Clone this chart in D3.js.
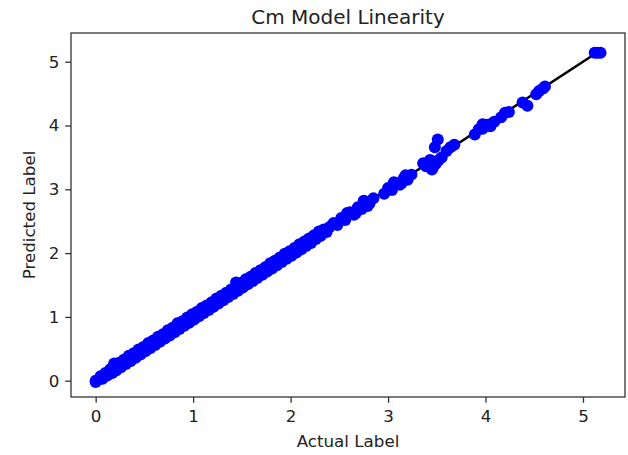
<!DOCTYPE html>
<html>
<head>
<meta charset="utf-8">
<script src="https://cdn.jsdelivr.net/npm/d3@7"></script>
<style>
  html, body { margin: 0; padding: 0; background: #fff; }
  svg { display: block; font-family: "DejaVu Sans", sans-serif; }
</style>
</head>
<body>
<svg id="chart" width="628" height="455"></svg>
<script>
// Actual vs. predicted values of the Cm model
const actual = [
  0.00, 0.00, 0.03, 0.05, 0.07, 0.10, 0.12, 0.15, 0.17, 0.19,
  0.21, 0.24, 0.26, 0.29, 0.31, 0.34, 0.36, 0.39, 0.41, 0.44,
  0.46, 0.49, 0.51, 0.54, 0.56, 0.59, 0.61, 0.64, 0.66, 0.69,
  0.71, 0.74, 0.76, 0.79, 0.81, 0.84, 0.86, 0.89, 0.91, 0.94,
  0.96, 0.99, 1.01, 1.04, 1.06, 1.09, 1.11, 1.14, 1.16, 1.19,
  1.21, 1.24, 1.26, 1.29, 1.31, 1.34, 1.36, 1.39, 1.41, 1.44,
  1.46, 1.49, 1.51, 1.54, 1.56, 1.59, 1.61, 1.64, 1.66, 1.69,
  1.71, 1.74, 1.76, 1.79, 1.81, 1.84, 1.86, 1.89, 1.91, 1.94,
  1.96, 1.99, 2.01, 2.04, 2.06, 2.09, 2.11, 2.14, 2.16, 2.19,
  2.21, 2.24, 2.26, 2.29, 2.31, 2.34, 2.37, 2.40,
  2.44, 2.48, 2.52, 2.56, 2.61, 2.65, 2.69, 2.73, 2.77, 2.81, 2.85,
  2.58, 2.67, 2.75, 2.79,
  2.96, 3.00, 3.04, 3.08, 3.12, 3.16, 3.20, 3.24,
  3.06, 3.14, 3.18,
  3.36, 3.39, 3.43, 3.46, 3.49, 3.52, 3.45, 3.55, 3.48, 3.51,
  3.60, 3.64, 3.68,
  3.89, 3.93, 3.97, 4.01, 4.05, 4.09, 3.97, 4.05,
  4.16, 4.20, 4.24,
  4.38, 4.43,
  4.52, 4.55, 4.59, 4.61,
  5.12, 5.15, 5.18
];
const predicted = [
  0.00, -0.02, 0.02, 0.07, 0.03, 0.12, 0.08, 0.18, 0.12, 0.27,
  0.16, 0.28, 0.21, 0.33, 0.26, 0.39, 0.31, 0.43, 0.36, 0.49,
  0.41, 0.53, 0.46, 0.59, 0.51, 0.63, 0.56, 0.69, 0.61, 0.73,
  0.66, 0.79, 0.71, 0.83, 0.76, 0.90, 0.81, 0.93, 0.86, 0.99,
  0.91, 1.04, 0.96, 1.08, 1.01, 1.14, 1.06, 1.18, 1.11, 1.23,
  1.16, 1.29, 1.21, 1.33, 1.26, 1.38, 1.31, 1.43, 1.36, 1.54,
  1.41, 1.53, 1.46, 1.59, 1.51, 1.63, 1.56, 1.69, 1.61, 1.73,
  1.66, 1.78, 1.71, 1.84, 1.76, 1.88, 1.81, 1.93, 1.86, 1.99,
  1.91, 2.03, 1.96, 2.08, 2.01, 2.14, 2.06, 2.18, 2.11, 2.23,
  2.16, 2.28, 2.22, 2.34, 2.27, 2.37, 2.33, 2.41,
  2.47, 2.44, 2.55, 2.52, 2.64, 2.60, 2.72, 2.69, 2.81, 2.78, 2.86,
  2.63, 2.63, 2.82, 2.74,
  2.93, 3.02, 2.99, 3.10, 3.07, 3.17, 3.15, 3.23,
  3.11, 3.10, 3.22,
  3.41, 3.36, 3.46, 3.34, 3.40, 3.46, 3.31, 3.50, 3.66, 3.78,
  3.60, 3.66, 3.70,
  3.86, 3.94, 3.95, 4.01, 4.02, 4.06, 4.02, 3.99,
  4.13, 4.20, 4.21,
  4.36, 4.31,
  4.49, 4.54, 4.58, 4.61,
  5.14, 5.14, 5.14
];
const xTicks = [0, 1, 2, 3, 4, 5];
const yTicks = [0, 1, 2, 3, 4, 5];
const chartTitle = "Cm Model Linearity";
const xLabel = "Actual Label";
const yLabel = "Predicted Label";

const svg = d3.select("#chart");
const box = { left: 71, right: 625, top: 33, bottom: 397 };
const textColor = "#222";

const x = d3.scaleLinear().domain([-0.253, 5.431]).range([box.left, box.right]);
const y = d3.scaleLinear().domain([-0.2555, 5.45]).range([box.bottom, box.top]);

// y = x reference line across the range of actual values
const ends = d3.extent(actual);
svg.append("path")
  .datum(ends)
  .attr("d", d3.line().x(d => x(d)).y(d => y(d)))
  .attr("fill", "none")
  .attr("stroke", "#000")
  .attr("stroke-width", 2.5);

// scatter of actual vs. predicted
const points = actual.map((a, i) => ({ a, p: predicted[i] }));
svg.append("g")
  .selectAll("circle")
  .data(points)
  .join("circle")
  .attr("cx", d => x(d.a))
  .attr("cy", d => y(d.p))
  .attr("r", 6)
  .attr("fill", "#0000ff");

// axes
const xAxis = svg.append("g")
  .attr("transform", `translate(0,${box.bottom})`)
  .call(d3.axisBottom(x).tickValues(xTicks).tickFormat(d3.format("d"))
    .tickSize(5.8).tickPadding(7.5));
const yAxis = svg.append("g")
  .attr("transform", `translate(${box.left},0)`)
  .call(d3.axisLeft(y).tickValues(yTicks).tickFormat(d3.format("d"))
    .tickSize(5.8).tickPadding(5.8));

[xAxis, yAxis].forEach(g => {
  g.select(".domain").remove();
  g.selectAll(".tick line").attr("stroke", "#333").attr("stroke-width", 1.3);
  g.selectAll(".tick text")
    .attr("fill", textColor)
    .style("font-family", "'DejaVu Sans', sans-serif")
    .style("font-size", "16.7px");
});

// frame
svg.append("rect")
  .attr("x", box.left)
  .attr("y", box.top)
  .attr("width", box.right - box.left)
  .attr("height", box.bottom - box.top)
  .attr("fill", "none")
  .attr("stroke", "#333")
  .attr("stroke-width", 1.3);

// title and axis labels
const cx = (box.left + box.right) / 2;
svg.append("text")
  .attr("x", cx).attr("y", 24)
  .attr("text-anchor", "middle")
  .attr("fill", textColor)
  .style("font-size", "20px")
  .text(chartTitle);

svg.append("text")
  .attr("x", cx).attr("y", 447)
  .attr("text-anchor", "middle")
  .attr("fill", textColor)
  .style("font-size", "16.7px")
  .text(xLabel);

svg.append("text")
  .attr("transform", `translate(35,${(box.top + box.bottom) / 2}) rotate(-90)`)
  .attr("text-anchor", "middle")
  .attr("fill", textColor)
  .style("font-size", "16.7px")
  .text(yLabel);
</script>
</body>
</html>
